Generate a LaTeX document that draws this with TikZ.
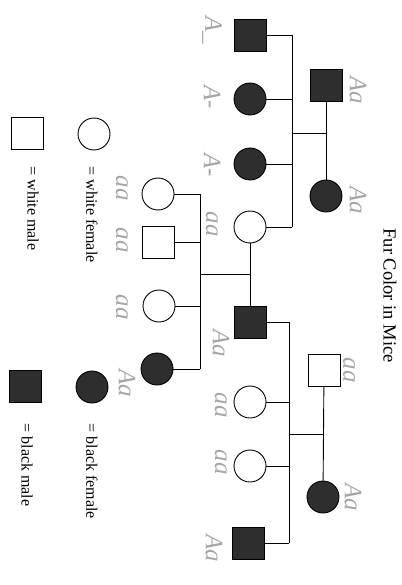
\documentclass[tikz,border=0pt]{standalone}
\usepackage{fontspec}
\setmainfont{Liberation Serif}
\usetikzlibrary{positioning}

\begin{document}
\begin{tikzpicture}[
    x=1pt, y=-1pt,
    male/.style={draw=black, line width=0.9pt, minimum size=32pt, inner sep=0pt},
    female/.style={draw=black, circle, line width=0.9pt, minimum size=32pt, inner sep=0pt},
    dark/.style={fill=black!82},
    geno/.style={rotate=-90, text=gray!70, font=\fontsize{25}{27}\selectfont\itshape},
    legend/.style={rotate=-90, anchor=west, font=\fontsize{16}{18}\selectfont},
    line/.style={line width=0.9pt, draw=black}
]
    \useasboundingbox (0,0) rectangle (401,585);

    % Title
    \node[legend, font=\fontsize{18.5}{20}\selectfont] (title) at (390,225) {Fur Color in Mice};

    % Generation I
    \node[male, dark] (p1) at (326,85) {};
    \node[female, dark] (p2) at (326,196) {};
    \node[geno] (lp1) at (358,90) {Aa};
    \node[geno] (lp2) at (358,200) {Aa};

    % Generation II, first litter
    \node[male, dark] (c1) at (250,35) {};
    \node[female, dark] (c2) at (250,99) {};
    \node[female, dark] (c3) at (250,164) {};
    \node[female] (c4) at (250,227) {};
    \node[geno] (lc1) at (212,30) {A\_};
    \node[geno] (lc2) at (212,97) {A-};
    \node[geno] (lc3) at (212,165) {A-};
    \node[geno] (lc4) at (212,224) {aa};

    % Second couple
    \node[male] (q1) at (324,370) {};
    \node[female, dark] (q2) at (323,497) {};
    \node[geno] (lq1) at (349,370) {aa};
    \node[geno] (lq2) at (353,497) {Aa};

    % Generation II, second litter
    \node[male, dark] (d1) at (250,322) {};
    \node[female] (d2) at (250,402) {};
    \node[female] (d3) at (250,466) {};
    \node[male, dark] (d4) at (248,543) {};
    \node[geno] (ld1) at (221,343) {Aa};
    \node[geno] (ld2) at (221,405) {aa};
    \node[geno] (ld3) at (221,462) {aa};
    \node[geno] (ld4) at (214,548) {Aa};

    % Generation III
    \node[female] (g1) at (158,194) {};
    \node[male] (g2) at (158,242) {};
    \node[female] (g3) at (159,306) {};
    \node[female, dark] (g4) at (157,369) {};
    \node[geno] (lg1) at (122,188) {aa};
    \node[geno] (lg2) at (122,240) {aa};
    \node[geno] (lg3) at (122,307) {aa};
    \node[geno] (lg4) at (127,383) {Aa};

    % Junctions
    \coordinate (m1) at (326,133);
    \coordinate (j1) at (292,133);
    \coordinate (s1a) at (292,35);
    \coordinate (s1b) at (292,99);
    \coordinate (s1c) at (292,164);
    \coordinate (s1d) at (292,227);
    \coordinate (m2) at (324,434);
    \coordinate (j2) at (289,434);
    \coordinate (s2a) at (289,322);
    \coordinate (s2b) at (289,402);
    \coordinate (s2c) at (289,466);
    \coordinate (s2d) at (289,543);
    \coordinate (m3) at (250,274);
    \coordinate (s3a) at (200,194);
    \coordinate (s3b) at (200,242);
    \coordinate (s3c) at (200,306);
    \coordinate (s3d) at (200,369);
    \coordinate (j3) at (200,274);

    % Lines of descent
    \draw[line] (p1) -- (p2);
    \draw[line] (m1) -- (j1);
    \draw[line] (s1a) -- (s1d);
    \draw[line] (c1) -- (s1a);
    \draw[line] (c2) -- (s1b);
    \draw[line] (c3) -- (s1c);
    \draw[line] (c4) -- (s1d);
    \draw[line] (q1) -- (q2);
    \draw[line] (m2) -- (j2);
    \draw[line] (s2a) -- (s2d);
    \draw[line] (d1) -- (s2a);
    \draw[line] (d2) -- (s2b);
    \draw[line] (d3) -- (s2c);
    \draw[line] (d4.east) -- (s2d);
    \draw[line] (c4) -- (d1);
    \draw[line] (m3) -- (j3);
    \draw[line] (s3a) -- (s3d);
    \draw[line] (g1) -- (s3a);
    \draw[line] (g2) -- (s3b);
    \draw[line] (g3) -- (s3c);
    \draw[line] (g4) -- (s3d);

    % Key
    \node[male] (k1) at (27,133) {};
    \node[female] (k2) at (94,134) {};
    \node[female, dark] (k3) at (92,387) {};
    \node[male, dark] (k4) at (25,386) {};
    \node[legend] (t1) at (33,163) {= white male};
    \node[legend] (t2) at (92,163) {= white female};
    \node[legend] (t3) at (92,420) {= black female};
    \node[legend] (t4) at (27,420) {= black male};
\end{tikzpicture}
\end{document}
